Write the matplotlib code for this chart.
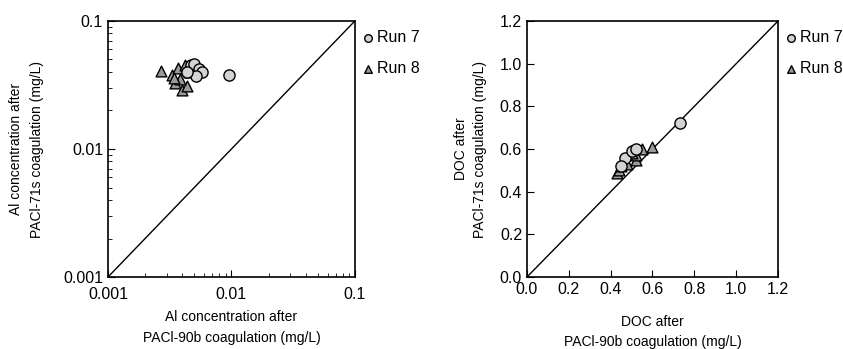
import numpy as np
import matplotlib.pyplot as plt
from matplotlib.ticker import FixedLocator, LogLocator, NullFormatter

plt.rcParams['font.family'] = ['Liberation Sans', 'DejaVu Sans']
plt.rcParams['font.size'] = 10

# 左图: Al 浓度 (mg/L)
al_run7_x = [0.0047, 0.0050, 0.0055, 0.0058, 0.0052, 0.0044, 0.0095]
al_run7_y = [0.045, 0.046, 0.042, 0.040, 0.037, 0.040, 0.038]
al_run8_x = [0.0027, 0.0033, 0.0035, 0.0040, 0.0044, 0.0037, 0.0042, 0.0038, 0.0045, 0.0034]
al_run8_y = [0.041, 0.038, 0.033, 0.029, 0.031, 0.043, 0.045, 0.035, 0.040, 0.036]

# 右图: DOC (mg/L)
doc_run7_x = [0.47, 0.50, 0.52, 0.73, 0.45]
doc_run7_y = [0.56, 0.59, 0.60, 0.72, 0.52]
doc_run8_x = [0.43, 0.44, 0.45, 0.48, 0.52, 0.52, 0.55, 0.60, 0.50]
doc_run8_y = [0.49, 0.50, 0.52, 0.53, 0.55, 0.57, 0.60, 0.61, 0.58]

log_ticks = [0.001, 0.01, 0.1]
log_labels = ["0.001", "0.01", "0.1"]
lin_ticks = [0.0, 0.2, 0.4, 0.6, 0.8, 1.0, 1.2]

fig = plt.figure(figsize=(8.43, 3.49), dpi=100)
ax1 = fig.add_axes([0.128, 0.206, 0.293, 0.734])
ax2 = fig.add_axes([0.625, 0.206, 0.298, 0.734])

circ = dict(marker="o", s=65, facecolor="#d4d4d4", edgecolor="black", linewidths=1.0, zorder=3)
tri = dict(marker="^", s=60, facecolor="#9a9a9a", edgecolor="black", linewidths=1.0, zorder=3)

# 左图
ax1.set_xscale("log")
ax1.set_yscale("log")
ax1.plot([0.001, 0.1], [0.001, 0.1], color="black", lw=1.0, zorder=2)
ax1.scatter(al_run8_x, al_run8_y, **tri)
ax1.scatter(al_run7_x, al_run7_y, **circ)
ax1.set_xlim(0.001, 0.1)
ax1.set_ylim(0.001, 0.1)
ax1.xaxis.set_major_locator(FixedLocator(log_ticks))
ax1.yaxis.set_major_locator(FixedLocator(log_ticks))
ax1.set_xticklabels(log_labels)
ax1.set_yticklabels(log_labels)
for axis in (ax1.xaxis, ax1.yaxis):
    axis.set_minor_locator(LogLocator(base=10, subs=np.arange(2, 10)))
    axis.set_minor_formatter(NullFormatter())
ax1.tick_params(which="both", direction="in", top=False, right=False, labelsize=11.5)
ax1.tick_params(which="major", length=5)
ax1.tick_params(which="minor", length=3)
ax1.tick_params(axis="x", which="major", pad=7)
ax1.set_xlabel("Al concentration after\nPACl-90b coagulation (mg/L)", linespacing=1.6, labelpad=6)
ax1.set_ylabel("Al concentration after\nPACl-71s coagulation (mg/L)", linespacing=1.6, labelpad=14)

# 右图
ax2.plot([0, 1.2], [0, 1.2], color="black", lw=1.0, zorder=2)
ax2.scatter(doc_run8_x, doc_run8_y, **tri)
ax2.scatter(doc_run7_x, doc_run7_y, **circ)
ax2.set_xlim(0, 1.2)
ax2.set_ylim(0, 1.2)
ax2.set_xticks(lin_ticks)
ax2.set_yticks(lin_ticks)
ax2.set_xticklabels([f"{t:.1f}" for t in lin_ticks])
ax2.set_yticklabels([f"{t:.1f}" for t in lin_ticks])
ax2.tick_params(direction="in", length=5, labelsize=11.5)
ax2.set_xlabel("DOC after\nPACl-90b coagulation (mg/L)", linespacing=1.5, labelpad=13)
ax2.set_ylabel("DOC after\nPACl-71s coagulation (mg/L)", linespacing=1.5, labelpad=9)

for ax in (ax1, ax2):
    for sp in ax.spines.values():
        sp.set_linewidth(1.2)
    ax.scatter([], [], marker="o", s=30, facecolor="#d4d4d4", edgecolor="black", label="Run 7")
    ax.scatter([], [], marker="^", s=30, facecolor="#9a9a9a", edgecolor="black", label="Run 8")
    ax.legend(loc="upper left", bbox_to_anchor=(1.0, 0.99), frameon=False,
              handlelength=0.8, handletextpad=0.2, labelspacing=1.0,
              borderaxespad=0.2, borderpad=0.2, fontsize=11.5)

plt.savefig("out.png", dpi=100)
